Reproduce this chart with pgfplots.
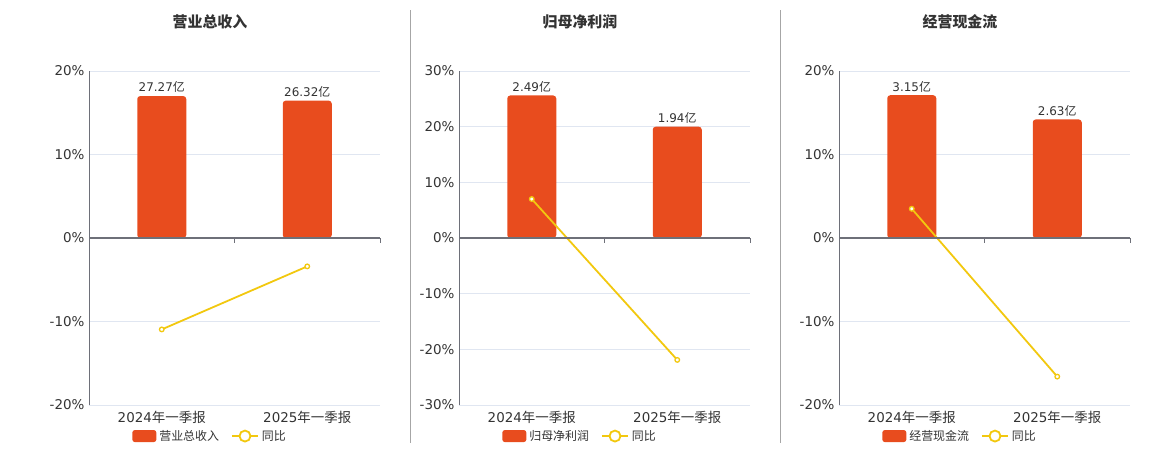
\documentclass[border=0pt]{standalone}
\usepackage{fontspec}
\setmainfont{DejaVu Sans}
\newfontfamily\cjk{Noto Sans CJK SC}
\usepackage{pgfplots}
\pgfplotsset{compat=1.18}
\definecolor{barred}{HTML}{E84C1E}
\definecolor{yoy}{HTML}{F2C80F}
\definecolor{axgray}{HTML}{6E7079}
\definecolor{gridc}{HTML}{E0E6F1}
\definecolor{txt}{HTML}{333333}

\pgfplotsset{
  panel/.style={
    scale only axis, width=291bp, height=334bp,
    anchor=south west,
    xmin=-0.5, xmax=1.5, enlargelimits=false,
    xtick={0,1},
    xticklabels={2024{\cjk 年一季报}, 2025{\cjk 年一季报}},
    axis x line*=bottom, axis y line*=left,
    x axis line style={draw=none},
    y axis line style={draw=axgray, line width=1bp},
    major tick length=0pt,
    ymajorgrids, grid style={gridc, line width=0.8bp},
    tick label style={font=\fontsize{13.5}{15}\selectfont, text=txt},
    xticklabel style={yshift=-3bp},
    yticklabel style={xshift=-1bp},
    clip=false,
    legend columns=2,
    legend style={at={(axis description cs:0.416,-0.093)}, anchor=center,
      draw=none, fill=none, font=\fontsize{12}{13}\selectfont\cjk, text=txt,
      /tikz/every even column/.append style={column sep=10bp},
      /tikz/every odd column/.append style={column sep=1bp}},
  },
  bars/.style={ybar, bar width=49bp, draw=none, fill=barred, rounded corners=3bp,
    point meta=explicit symbolic,
    nodes near coords={\pgfplotspointmeta{\cjk 亿}},
    nodes near coords style={font=\fontsize{12}{13}\selectfont, text=txt, inner sep=3bp},
    legend image code/.code={\fill[barred, rounded corners=2.5bp] (0bp,-6bp) rectangle (24bp,6bp);}},
  yoyline/.style={yoy, line width=1.8bp, mark=*, mark size=2.3bp,
    mark options={fill=white, draw=yoy, line width=1.3bp},
    legend image code/.code={\draw[yoy, line width=1.8bp] (0bp,0bp) -- (26bp,0bp);
      \draw[yoy, line width=1.8bp, fill=white] (13bp,0bp) circle (5.5bp);}},
}
\newcommand\zeroline{%
  \draw[axgray, line width=2bp] (axis cs:-0.5,0) -- (axis cs:1.5,0);
  \draw[axgray, line width=1bp] (axis cs:0.5,0) -- ([yshift=-5bp]axis cs:0.5,0);
  \draw[axgray, line width=1bp] (axis cs:1.5,0) -- ([yshift=-5bp]axis cs:1.5,0);}

\begin{document}
\begin{tikzpicture}
\path[use as bounding box] (0,0) rectangle (1160bp,450bp);

% panel 1
\begin{axis}[panel, at={(89bp,45bp)},
  ymin=-20, ymax=20, ytick={-20,-10,0,10,20},
  yticklabels={-20\%,-10\%,0\%,10\%,20\%}]
\addplot[bars] coordinates {(0,17.0) [27.27] (1,16.45) [26.32]};
\addlegendentry{营业总收入}
\addplot[yoyline] coordinates {(0,-10.95) (1,-3.4)};
\addlegendentry{同比}
\zeroline
\end{axis}

% panel 2
\begin{axis}[panel, at={(459bp,45bp)},
  ymin=-30, ymax=30, ytick={-30,-20,-10,0,10,20,30},
  yticklabels={-30\%,-20\%,-10\%,0\%,10\%,20\%,30\%}]
\addplot[bars] coordinates {(0,25.6) [2.49] (1,20.0) [1.94]};
\addlegendentry{归母净利润}
\addplot[yoyline] coordinates {(0,7.0) (1,-21.9)};
\addlegendentry{同比}
\zeroline
\end{axis}

% panel 3
\begin{axis}[panel, at={(839bp,45bp)},
  ymin=-20, ymax=20, ytick={-20,-10,0,10,20},
  yticklabels={-20\%,-10\%,0\%,10\%,20\%}]
\addplot[bars] coordinates {(0,17.1) [3.15] (1,14.2) [2.63]};
\addlegendentry{经营现金流}
\addplot[yoyline] coordinates {(0,3.5) (1,-16.6)};
\addlegendentry{同比}
\zeroline
\end{axis}

% titles
\node[text=txt, font=\fontsize{15}{18}\selectfont\cjk\bfseries] at (210bp,428bp) {营业总收入};
\node[text=txt, font=\fontsize{15}{18}\selectfont\cjk\bfseries] at (580bp,428bp) {归母净利润};
\node[text=txt, font=\fontsize{15}{18}\selectfont\cjk\bfseries] at (960bp,428bp) {经营现金流};

% separators
\draw[gray!70, line width=1bp] (410bp,7bp) -- (410bp,440bp);
\draw[gray!70, line width=1bp] (780bp,7bp) -- (780bp,440bp);
\end{tikzpicture}
\end{document}
